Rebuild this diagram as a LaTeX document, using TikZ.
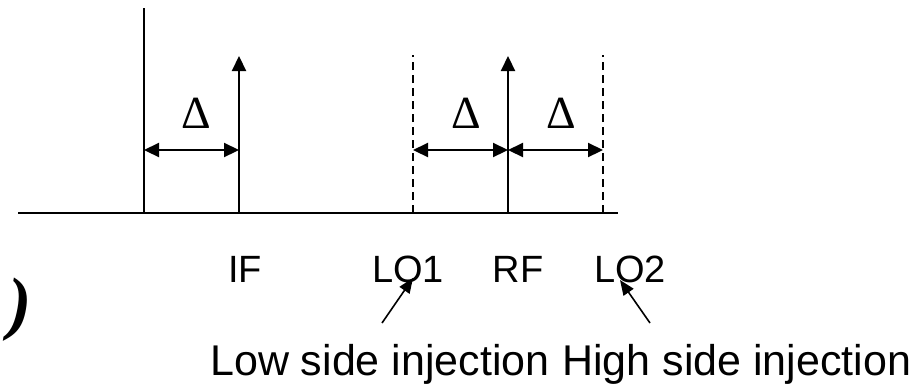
\documentclass[tikz,border=0pt]{standalone}
\usepackage{fontspec}
\setmainfont{Liberation Sans}
\newfontfamily\serifit{Liberation Serif}
\newfontfamily\serifup{Liberation Serif}
\usetikzlibrary{arrows.meta}
\begin{document}
\begin{tikzpicture}[x=1pt,y=-1pt,
  axisline/.style={line width=2.2pt},
  spike/.style={line width=2.2pt,-{Triangle[length=15pt,width=14pt]}},
  dimarrow/.style={line width=2.2pt,{Triangle[length=15pt,width=14pt]}-{Triangle[length=15pt,width=14pt]}},
  dashline/.style={line width=2.2pt,dash pattern=on 8pt off 5pt},
  lbl/.style={font=\fontsize{38}{40}\selectfont,anchor=base,inner sep=0pt},
  bottomlbl/.style={font=\fontsize{43}{45}\selectfont,anchor=base west,inner sep=0pt},
  deltalbl/.style={font=\serifup\fontsize{46}{48}\selectfont,inner sep=0pt},
  pointer/.style={line width=1.6pt,-{Triangle[length=15pt,width=12pt]}}]
\useasboundingbox (0,0) rectangle (920,384);
% axis and reference lines
\coordinate (axL) at (18,213);
\coordinate (axR) at (618,213);
\draw[axisline] (axL) -- (axR);
\coordinate (v0b) at (144,213);
\coordinate (v0t) at (144,8);
\draw[axisline] (v0b) -- (v0t);
\coordinate (ifb) at (239,213);
\coordinate (ift) at (239,56);
\draw[spike] (ifb) -- (ift);
\coordinate (rfb) at (508,213);
\coordinate (rft) at (508,56);
\draw[spike] (rfb) -- (rft);
\coordinate (lo1b) at (413,213);
\coordinate (lo1t) at (413,55);
\draw[dashline] (lo1b) -- (lo1t);
\coordinate (lo2b) at (603,213);
\coordinate (lo2t) at (603,55);
\draw[dashline] (lo2b) -- (lo2t);
% delta arrows
\coordinate (d0a) at (144,150);
\coordinate (d0b) at (239,150);
\draw[dimarrow] (d0a) -- (d0b);
\coordinate (d1a) at (413,150);
\coordinate (d1b) at (508,150);
\draw[dimarrow] (d1a) -- (d1b);
\coordinate (d2a) at (508,150);
\coordinate (d2b) at (603,150);
\draw[dimarrow] (d2a) -- (d2b);
\node[deltalbl] (dl0) at (196,113) {Δ};
\node[deltalbl] (dl1) at (466,113) {Δ};
\node[deltalbl] (dl2) at (561,113) {Δ};
% labels
\node[lbl] (IF) at (245,282) {IF};
\node[lbl] (LO1) at (408,282) {LO1};
\node[lbl] (RF) at (518,282) {RF};
\node[lbl] (LO2) at (630,282) {LO2};
\node[bottomlbl] (low) at (210,375) {Low side injection};
\node[bottomlbl] (high) at (562,375) {High side injection};
\coordinate (p1t) at (382,323);
\coordinate (p1h) at (413,278);
\draw[pointer] (p1t) -- (p1h);
\coordinate (p2t) at (650,323);
\coordinate (p2h) at (620,280);
\draw[pointer] (p2t) -- (p2h);
% fragment at left edge
\node[font=\serifit\itshape\bfseries\fontsize{70}{72}\selectfont,inner sep=0pt] (frag) at (20,310) {)};
\end{tikzpicture}
\end{document}
